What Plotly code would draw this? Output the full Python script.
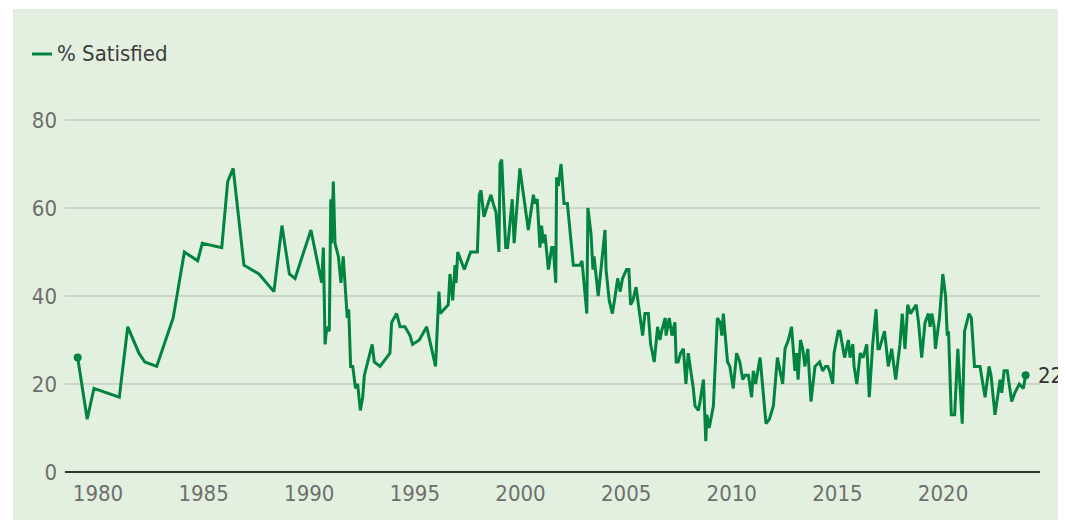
import plotly.graph_objects as go

# decimal year of each poll reading
years = [
    1979.04, 1979.49, 1979.81, 1981.01, 1981.41, 1981.94, 1982.22, 1982.78, 1983.56, 1984.09,
    1984.72, 1984.94, 1985.86, 1986.14, 1986.40, 1986.91, 1987.62, 1988.33, 1988.71, 1989.06,
    1989.33, 1990.08, 1990.59, 1990.67, 1990.75, 1990.83, 1990.95, 1991.02, 1991.06, 1991.14,
    1991.22, 1991.38, 1991.50, 1991.61, 1991.80, 1991.87, 1991.96, 1992.06, 1992.19, 1992.29,
    1992.42, 1992.53, 1992.61, 1992.98, 1993.08, 1993.35, 1993.82, 1993.90, 1994.14, 1994.30,
    1994.53, 1994.77, 1994.89, 1995.21, 1995.56, 1995.98, 1996.14, 1996.20, 1996.58, 1996.66,
    1996.79, 1996.90, 1996.95, 1997.03, 1997.34, 1997.64, 1997.96, 1998.05, 1998.13, 1998.27,
    1998.40, 1998.60, 1998.71, 1998.84, 1998.98, 1999.03, 1999.11, 1999.30, 1999.39, 1999.61,
    1999.70, 1999.97, 2000.37, 2000.61, 2000.69, 2000.79, 2000.92, 2001.00, 2001.08, 2001.16,
    2001.32, 2001.48, 2001.55, 2001.67, 2001.71, 2001.79, 2001.92, 2002.06, 2002.22, 2002.50,
    2002.82, 2002.91, 2003.14, 2003.19, 2003.34, 2003.43, 2003.48, 2003.68, 2004.00, 2004.05,
    2004.20, 2004.35, 2004.48, 2004.60, 2004.72, 2004.83, 2005.02, 2005.13, 2005.21, 2005.32,
    2005.47, 2005.58, 2005.69, 2005.78, 2005.89, 2006.05, 2006.16, 2006.33, 2006.49, 2006.60,
    2006.68, 2006.85, 2006.89, 2007.04, 2007.17, 2007.31, 2007.37, 2007.46, 2007.58, 2007.71,
    2007.83, 2007.94, 2008.18, 2008.26, 2008.42, 2008.50, 2008.66, 2008.77, 2008.82, 2008.93,
    2009.13, 2009.32, 2009.45, 2009.53, 2009.60, 2009.80, 2009.91, 2010.07, 2010.23, 2010.38,
    2010.52, 2010.63, 2010.79, 2010.94, 2011.02, 2011.13, 2011.34, 2011.49, 2011.62, 2011.78,
    2011.97, 2012.16, 2012.41, 2012.52, 2012.68, 2012.83, 2012.91, 2012.99, 2013.07, 2013.14,
    2013.25, 2013.36, 2013.46, 2013.60, 2013.75, 2013.94, 2014.16, 2014.30, 2014.44, 2014.54,
    2014.63, 2014.78, 2014.84, 2015.04, 2015.12, 2015.34, 2015.52, 2015.60, 2015.73, 2015.79,
    2015.92, 2016.08, 2016.22, 2016.39, 2016.51, 2016.67, 2016.83, 2016.92, 2016.99, 2017.23,
    2017.41, 2017.57, 2017.76, 2017.96, 2018.07, 2018.20, 2018.33, 2018.46, 2018.73, 2018.84,
    2018.99, 2019.15, 2019.31, 2019.39, 2019.47, 2019.58, 2019.64, 2019.83, 2019.99, 2020.12,
    2020.20, 2020.26, 2020.39, 2020.55, 2020.70, 2020.91, 2021.02, 2021.23, 2021.34, 2021.49,
    2021.65, 2021.75, 2021.99, 2022.18, 2022.27, 2022.46, 2022.70, 2022.78, 2022.89, 2023.04,
    2023.25, 2023.40, 2023.61, 2023.80, 2023.91,
]

# % satisfied
satisfied = [
    26, 12, 19, 17, 33, 27, 25, 24, 35, 50,
    48, 52, 51, 66, 69, 47, 45, 41, 56, 45,
    44, 55, 43, 51, 29, 33, 32, 62, 52, 66,
    52, 49, 43, 49, 35, 37, 24, 24, 19, 20,
    14, 17, 22, 29, 25, 24, 27, 34, 36, 33,
    33, 31, 29, 30, 33, 24, 41, 36, 38, 45,
    39, 47, 43, 50, 46, 50, 50, 63, 64, 58,
    60, 63, 61, 59, 50, 70, 71, 51, 51, 62,
    52, 69, 55, 63, 61, 62, 51, 56, 52, 54,
    46, 51, 51, 43, 67, 65, 70, 61, 61, 47,
    47, 48, 36, 60, 54, 46, 49, 40, 55, 46,
    39, 36, 40, 44, 41, 44, 46, 46, 38, 39,
    42, 38, 35, 31, 36, 36, 29, 25, 33, 30,
    32, 35, 31, 35, 31, 34, 25, 25, 27, 28,
    20, 27, 19, 15, 14, 16, 21, 7, 13, 10,
    15, 35, 34, 31, 36, 25, 24, 19, 27, 25,
    21, 22, 22, 17, 23, 20, 26, 18, 11, 12,
    15, 26, 20, 28, 30, 33, 27, 23, 27, 21,
    30, 28, 24, 28, 16, 24, 25, 23, 24, 24,
    23, 20, 27, 32, 32, 26, 30, 26, 29, 24,
    20, 27, 26, 29, 17, 29, 37, 28, 28, 32,
    24, 28, 21, 29, 36, 28, 38, 36, 38, 34,
    26, 34, 36, 33, 36, 33, 28, 35, 45, 40,
    31, 32, 13, 13, 28, 11, 32, 36, 35, 24,
    24, 24, 17, 24, 22, 13, 21, 18, 23, 23,
    16, 18, 20, 19, 22,
]

series_name = "% Satisfied"
x_ticks = [1980, 1985, 1990, 1995, 2000, 2005, 2010, 2015, 2020]
y_ticks = [0, 20, 40, 60, 80]

GREEN = "#00843f"
BG = "#e3f0e0"
FONT = "DejaVu Sans Condensed, Liberation Sans Narrow, Roboto, sans-serif"
FS = 22

OFF = 8  # page body margin
W, H = 1058, 512
# plot area in page pixels: left 65, right 1040, top 98, bottom 472
ML, MR, MT, MB = 65 - OFF, W - (1040 - OFF), 98 - OFF, H - (472 - OFF)
pw, ph = W - ML - MR, H - MT - MB

def px_x(p):
    return (p - OFF - ML) / pw

def px_y(p):
    return (H - MB - (p - OFF)) / ph

fig = go.Figure()
fig.add_trace(go.Scatter(
    x=years, y=satisfied, mode="lines", name=series_name,
    line=dict(color=GREEN, width=3), showlegend=False,
    hoverinfo="x+y",
))
fig.add_trace(go.Scatter(
    x=[years[0], years[-1]], y=[satisfied[0], satisfied[-1]], mode="markers",
    marker=dict(color=GREEN, size=8), showlegend=False, hoverinfo="skip",
))

shapes = [
    dict(type="rect", xref="paper", yref="paper", layer="below",
         x0=px_x(13), x1=px_x(1060), y0=px_y(520), y1=px_y(9),
         fillcolor=BG, line=dict(width=0)),
    dict(type="line", xref="paper", yref="paper",
         x0=px_x(32), x1=px_x(52), y0=px_y(54), y1=px_y(54),
         line=dict(color=GREEN, width=3)),
]

annotations = [
    dict(xref="paper", yref="paper", x=px_x(55), y=px_y(54), text=series_name,
         showarrow=False, xanchor="left", yanchor="middle",
         font=dict(family=FONT, size=FS, color="#3d3d3d")),
    dict(x=years[-1], y=satisfied[-1], xref="x", yref="y", text=str(satisfied[-1]),
         showarrow=False, xanchor="left", yanchor="middle", xshift=10,
         font=dict(family=FONT, size=FS, color="#333333")),
]

fig.update_layout(
    width=W, height=H,
    margin=dict(l=ML, r=MR, t=MT, b=MB),
    paper_bgcolor="white", plot_bgcolor="rgba(0,0,0,0)",
    shapes=shapes, annotations=annotations,
    font=dict(family=FONT, size=FS, color="#6e6e6e"),
    xaxis=dict(range=[1978.44, 2024.59], tickvals=x_ticks, showgrid=False,
               zeroline=False, showline=False, ticks="", ticklabelstandoff=6,
               tickfont=dict(size=FS, color="#6e6e6e")),
    yaxis=dict(range=[0, 85], tickvals=y_ticks, showgrid=True,
               gridcolor="#cbd6c8", gridwidth=1.5, zeroline=True,
               zerolinecolor="#333333", zerolinewidth=2, showline=False,
               ticks="", ticklabelstandoff=7,
               tickfont=dict(size=FS, color="#6e6e6e")),
    showlegend=False,
)

fig.write_html("out.html")
